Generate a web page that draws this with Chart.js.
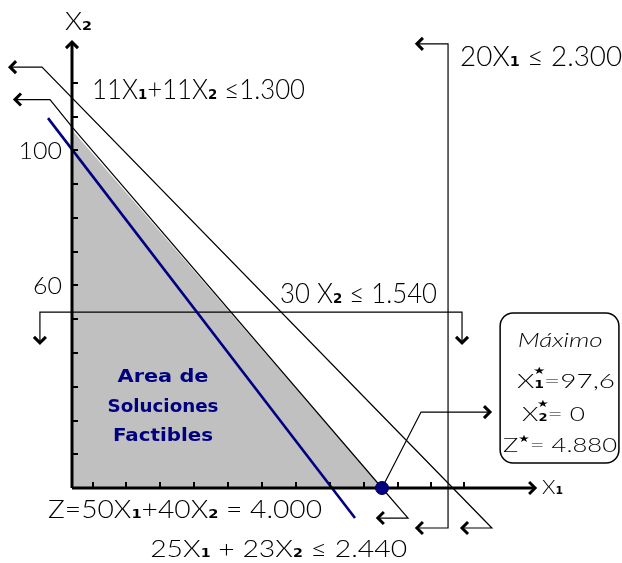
<!DOCTYPE html>
<html>
<head>
<meta charset="utf-8">
<script src="https://cdn.jsdelivr.net/npm/chart.js@4.4.1/dist/chart.umd.min.js"></script>
<style>
  html, body { margin: 0; padding: 0; background: #fff; }
  #wrap { width: 622px; height: 563px; }
</style>
</head>
<body>
<div id="wrap"><canvas id="lpChart" width="622" height="563"></canvas></div>
<script>
// all values in problem units (x = X1, y = X2)
const feasibleEdge = [{ x: 0, y: 106.1 }, { x: 97.6, y: 0 }];
const line11 = [{ x: -19.5, y: 124.7 }, { x: -9.45, y: 124.7 }, { x: 132.2, y: -11.85 }, { x: 122.8, y: -11.85 }];
const line25 = [{ x: -17.95, y: 115.1 }, { x: -6.93, y: 115.1 }, { x: 0, y: 107.0 }, { x: 97.6, y: 0 }, { x: 105.8, y: -8.9 }, { x: 96.3, y: -8.9 }];
const line30 = [{ x: -10.1, y: 43.0 }, { x: -10.1, y: 52.1 }, { x: 122.8, y: 52.1 }, { x: 122.8, y: 43.0 }];
const line20 = [{ x: 108.6, y: 131.6 }, { x: 118.4, y: 131.6 }, { x: 118.4, y: -11.85 }, { x: 108.6, y: -11.85 }];
const zLine = [{ x: -7.56, y: 109.6 }, { x: 89.1, y: -8.9 }];
const optimum = [{ x: 97.6, y: 0 }];
const pointer = [{ x: 97.6, y: 0 }, { x: 109.9, y: 22.5 }, { x: 131.6, y: 22.5 }];
const xAxisLine = [{ x: 0, y: 0 }, { x: 145.8, y: 0 }];
const yAxisLine = [{ x: 0, y: 0 }, { x: 0, y: 132.1 }];

const xTickPos = [6.6, 17.0, 27.7, 38.4, 49.1, 59.8, 70.5, 81.2, 91.9, 102.6, 113.0, 123.4];
const yTickVals = [10, 20, 30, 40, 50, 60, 70, 80, 90, 100, 110, 120];
const yTickLabels = ['100', '60'];
const yTickLabelVals = [100, 60];

const arrowTips = [
  { x: -19.5, y: 124.7, dir: 'left' }, { x: 122.8, y: -11.85, dir: 'left' },
  { x: -17.95, y: 115.1, dir: 'left' }, { x: 96.3, y: -8.9, dir: 'left' },
  { x: -10.1, y: 43.0, dir: 'down' }, { x: 122.8, y: 43.0, dir: 'down' },
  { x: 108.6, y: 131.6, dir: 'left' }, { x: 108.6, y: -11.85, dir: 'left' },
  { x: 131.6, y: 22.5, dir: 'right' },
  { x: 145.8, y: 0, dir: 'right' }, { x: 0, y: 132.1, dir: 'up' }
];

const FONT = 'Lato, "Liberation Sans", sans-serif';
const NAVY = '#000080';

// text placement: x/y in problem units, y is the vertical centre of the digits
const notes = [
  { t: 'X_2', x: -2.2, y: 138.4, size: 25, width: 27 },
  { t: '11X_1+11X_2 ≤1.300', x: 6.3, y: 118.2, size: 27, width: 213 },
  { t: '20X_1 ≤ 2.300', x: 122.2, y: 128.0, size: 27, width: 162 },
  { t: '30 X_2 ≤ 1.540', x: 65.5, y: 57.8, size: 27, width: 157 },
  { t: 'X_1', x: 148.0, y: 0.3, size: 20, width: 21 },
  { t: 'Z=50X_1+40X_2 = 4.000', x: -7.56, y: -6.2, size: 25, width: 274 },
  { t: '25X_1 + 23X_2 ≤ 2.440', x: 24.6, y: -17.8, size: 24, width: 257 },
  { t: 'Máximo', x: 153.7, y: 43.85, size: 19, width: 85, align: 'center', style: 'italic' },
  { t: 'X_1^★=97,6', x: 140.1, y: 31.7, size: 20, width: 98 },
  { t: 'X_2^★= 0', x: 141.7, y: 22.0, size: 20, width: 63 },
  { t: 'Z^★= 4.880', x: 135.7, y: 12.9, size: 20, width: 114 },
  { t: 'Area de', x: 28.65, y: 33.3, size: 17, width: 91, align: 'center', bold: true, color: NAVY },
  { t: 'Soluciones', x: 28.65, y: 24.4, size: 17, width: 111, align: 'center', bold: true, color: NAVY },
  { t: 'Factibles', x: 28.65, y: 15.7, size: 17, width: 100, align: 'center', bold: true, color: NAVY }
];
const resultBox = { x1: 134.8, x2: 172.2, y1: 51.85, y2: 7.4 };

function runsOf(str) {
  const runs = [];
  let buf = '';
  for (let i = 0; i < str.length; i++) {
    const c = str[i];
    if ((c === '_' || c === '^') && i + 1 < str.length) {
      if (buf) { runs.push({ t: buf, k: 'n' }); buf = ''; }
      runs.push({ t: str[i + 1], k: c === '_' ? 'sub' : 'sup' });
      i++;
    } else buf += c;
  }
  if (buf) runs.push({ t: buf, k: 'n' });
  return runs;
}

function drawRich(ctx, n, x, y) {
  const size = n.size;
  const main = `${n.style || 'normal'} ${n.bold ? 'bold' : '300'} ${size}px ${n.bold ? '"DejaVu Sans", sans-serif' : FONT}`;
  const small = `bold ${Math.round(size * 0.5)}px "DejaVu Sans", sans-serif`;
  const runs = runsOf(n.t);
  let w = 0;
  runs.forEach((r, i) => {
    ctx.font = r.k === 'n' ? main : small;
    r.w = ctx.measureText(r.t).width;
    r.stack = r.k === 'sup' && i > 0 && runs[i - 1].k === 'sub';
    if (!r.stack) w += r.w;
  });
  const sx = n.width ? n.width / w : 1;
  const x0 = n.align === 'center' ? x - w * sx / 2 : x;
  ctx.save();
  ctx.translate(x0, y + size * 0.36);
  ctx.scale(sx, 1);
  ctx.fillStyle = n.color || '#000';
  ctx.textBaseline = 'alphabetic';
  ctx.textAlign = 'left';
  let cx = 0, prev = null;
  runs.forEach(r => {
    ctx.font = r.k === 'n' ? main : small;
    if (r.k === 'n' || r.k === 'sub') ctx.fillText(r.t, cx, 0);
    else if (r.stack) ctx.fillText(r.t, cx - prev.w / 2 - r.w / 2, -size * 0.72);
    else ctx.fillText(r.t, cx, -size * 0.5);
    if (!r.stack) cx += r.w;
    prev = r;
  });
  ctx.restore();
}

function chevron(ctx, x, y, dir, s) {
  const [dx, dy] = { left: [1, 0], right: [-1, 0], up: [0, 1], down: [0, -1] }[dir];
  const nx = -dy, ny = dx;
  ctx.beginPath();
  ctx.moveTo(x + dx * s + nx * s, y + dy * s + ny * s);
  ctx.lineTo(x, y);
  ctx.lineTo(x + dx * s - nx * s, y + dy * s - ny * s);
  ctx.stroke();
}

const sketchPlugin = {
  id: 'sketch',
  afterDatasetsDraw(chart) {
    const { ctx, scales: { x, y } } = chart;
    const px = v => x.getPixelForValue(v);
    const py = v => y.getPixelForValue(v);
    ctx.save();
    ctx.strokeStyle = '#000';
    ctx.lineWidth = 2;
    xTickPos.forEach(v => {
      const p = Math.round(px(v));
      ctx.beginPath(); ctx.moveTo(p, py(0)); ctx.lineTo(p, py(0) - 6); ctx.stroke();
    });
    yTickVals.forEach(v => {
      const p = Math.round(py(v));
      ctx.beginPath(); ctx.moveTo(px(0), p); ctx.lineTo(px(0) + 6, p); ctx.stroke();
    });

    ctx.lineWidth = 3;
    ctx.lineJoin = 'miter';
    ctx.lineCap = 'butt';
    arrowTips.forEach(a => chevron(ctx, px(a.x), py(a.y), a.dir, 6));

    ctx.lineWidth = 1.5;
    ctx.beginPath();
    ctx.roundRect(px(resultBox.x1), py(resultBox.y1), px(resultBox.x2) - px(resultBox.x1), py(resultBox.y2) - py(resultBox.y1), 13);
    ctx.stroke();

    yTickLabelVals.forEach((v, i) => {
      const lw = yTickLabels[i].length * 14.5;
      drawRich(ctx, { t: yTickLabels[i], size: 24, width: lw }, px(0) - 10 - lw, py(v));
    });
    notes.forEach(n => drawRich(ctx, n, px(n.x), py(n.y)));
    ctx.restore();
  }
};

const lineSet = (data, color, width, order) => ({
  data, showLine: true, borderColor: color, borderWidth: width,
  pointRadius: 0, fill: false, tension: 0, order, clip: false
});

new Chart(document.getElementById('lpChart'), {
  type: 'scatter',
  data: {
    datasets: [
      { data: optimum, pointRadius: 6.5, pointBackgroundColor: NAVY, pointBorderColor: '#000050', pointBorderWidth: 1, showLine: false, order: 0, clip: false },
      lineSet(xAxisLine, '#000', 3, 1),
      lineSet(yAxisLine, '#000', 3, 1),
      lineSet(zLine, NAVY, 2.6, 2),
      lineSet(line11, '#000', 1.2, 3),
      lineSet(line25, '#000', 1.2, 3),
      lineSet(line30, '#000', 1.2, 3),
      lineSet(line20, '#000', 1.2, 3),
      lineSet(pointer, '#000', 1.2, 3),
      { data: feasibleEdge, showLine: true, borderWidth: 0, borderColor: 'rgba(0,0,0,0)', pointRadius: 0, fill: 'origin', backgroundColor: '#c0c0c0', order: 10 }
    ]
  },
  options: {
    responsive: false,
    animation: false,
    layout: { padding: 0, autoPadding: false },
    plugins: { legend: { display: false }, tooltip: { enabled: false } },
    scales: {
      x: { type: 'linear', display: false, min: -22.67, max: 173.17 },
      y: { type: 'linear', display: false, min: -22.22, max: 144.59 }
    }
  },
  plugins: [sketchPlugin]
});
</script>
</body>
</html>
